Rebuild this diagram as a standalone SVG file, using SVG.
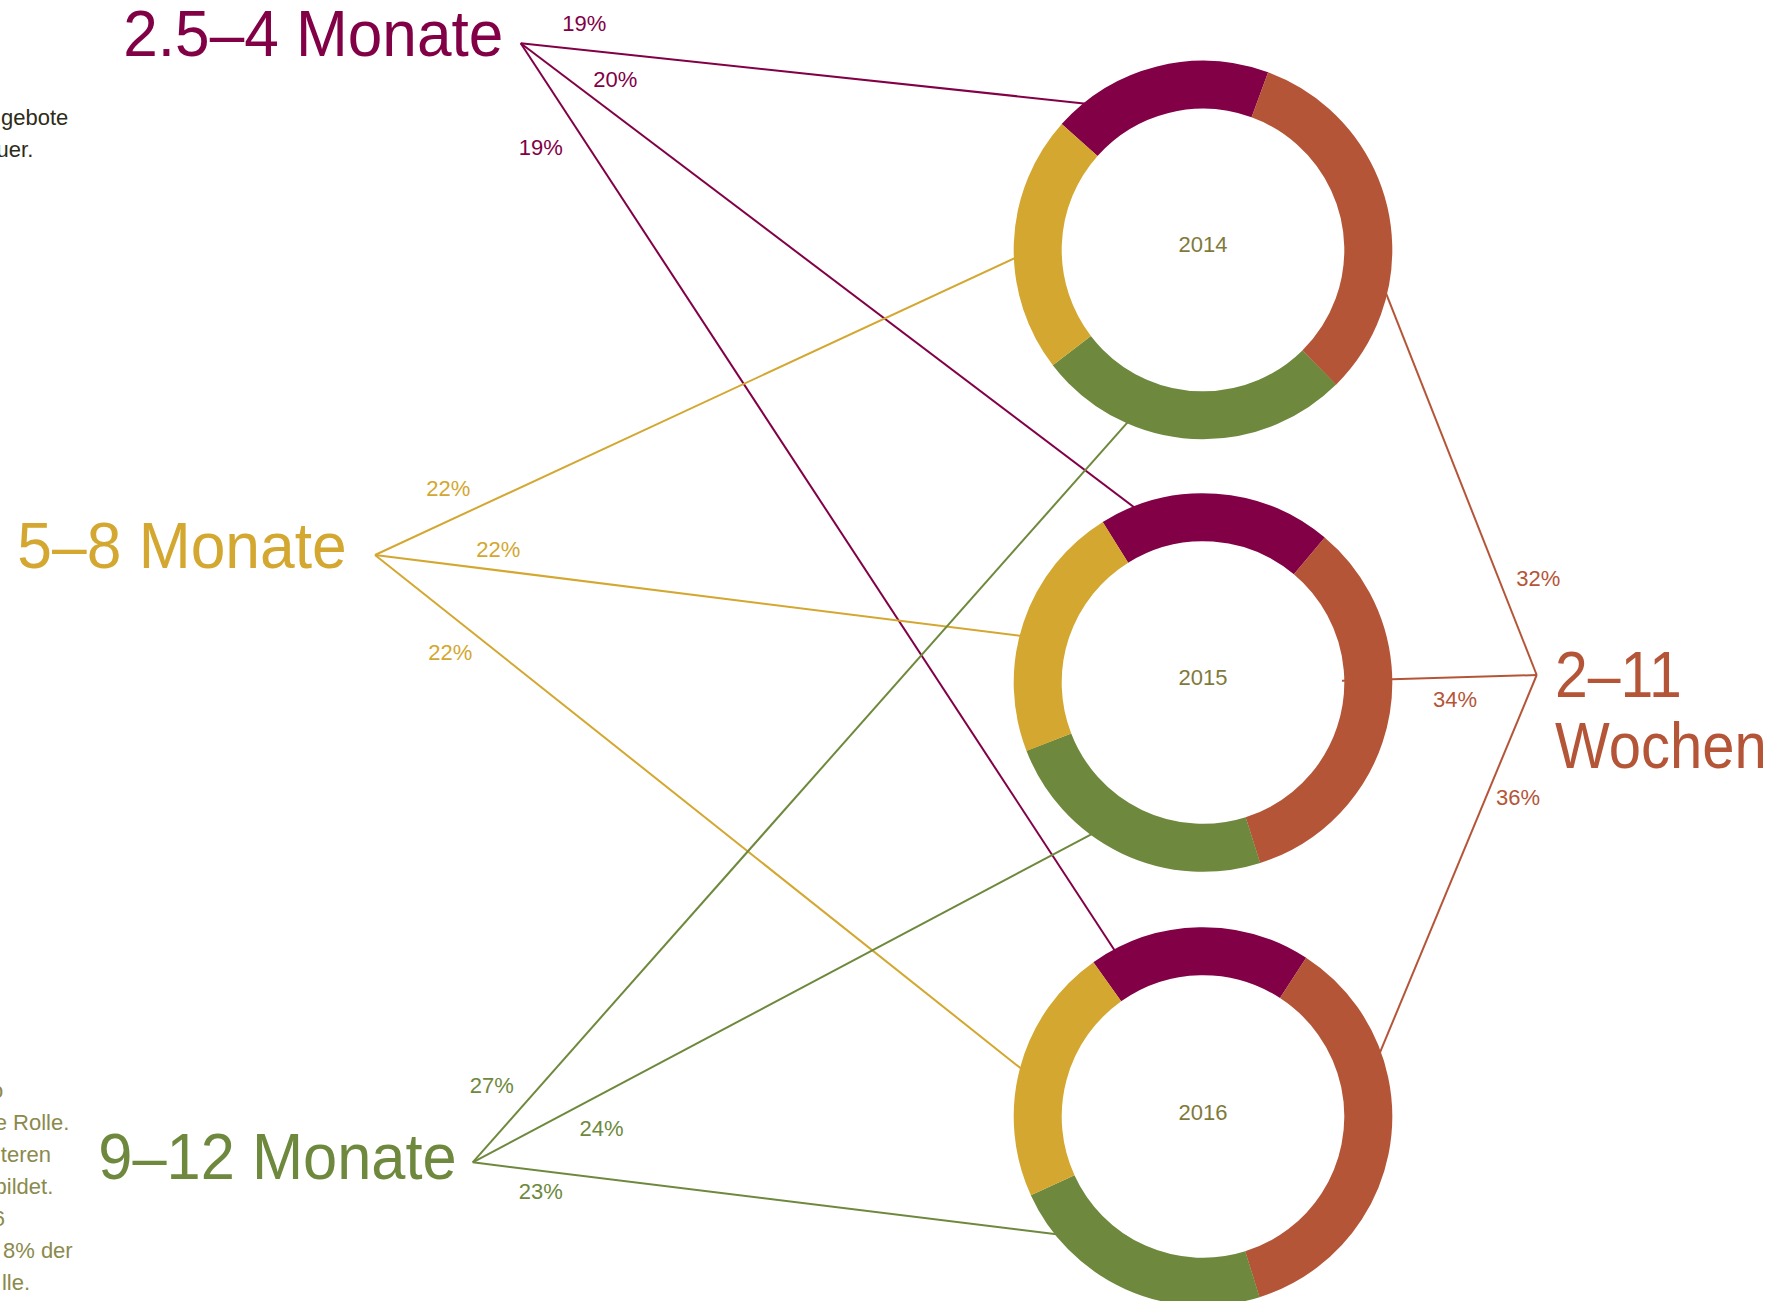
<svg xmlns="http://www.w3.org/2000/svg" width="1792" height="1301" viewBox="0 0 1792 1301">
<style>
text { font-family: "Liberation Sans", Arial, sans-serif; }
.big { font-size: 64px; }
.pct { font-size: 22px; text-anchor: middle; }
.yr { font-size: 22px; text-anchor: middle; fill: #7f7a3b; }
.side { font-size: 22px; text-anchor: end; }
.seg { fill: none; stroke-width: 48; }
.ln { fill: none; stroke-width: 2; }
.c-p { stroke: #820046; } .t-p { fill: #820046; }
.c-o { stroke: #b55538; } .t-o { fill: #b55538; }
.c-y { stroke: #d3a730; } .t-y { fill: #d3a730; }
.c-g { stroke: #6e893d; } .t-g { fill: #6e893d; }
</style>
<rect width="1792" height="1301" fill="#ffffff"/>

<g id="side-text">
  <text class="side" x="68.3" y="125" fill="#2d2c18">gebote</text>
  <text class="side" x="33.3" y="157" fill="#2d2c18">uer.</text>
  <g fill="#8b8a4c">
    <text class="side" x="3.3" y="1098">o</text>
    <text class="side" x="69.3" y="1130">e Rolle.</text>
    <text class="side" x="51" y="1162">teren</text>
    <text class="side" x="53.3" y="1194">bildet.</text>
    <text class="side" x="5" y="1226">6</text>
    <text class="side" x="72.7" y="1258">8% der</text>
    <text class="side" x="30" y="1290">lle.</text>
  </g>
</g>

<g id="connectors">
  <line class="ln c-p" x1="520.7" y1="43.3" x2="1093.2" y2="104.4"/>
  <line class="ln c-p" x1="520.7" y1="43.3" x2="1141.3" y2="512.7"/>
  <line class="ln c-p" x1="520.7" y1="43.3" x2="1118.8" y2="956.7"/>
  <line class="ln c-y" x1="375" y1="555" x2="1023.4" y2="254.1"/>
  <line class="ln c-y" x1="375" y1="555" x2="1029.9" y2="636.9"/>
  <line class="ln c-y" x1="375" y1="555" x2="1028.5" y2="1074.5"/>
  <line class="ln c-g" x1="472.7" y1="1162.3" x2="1133.3" y2="415.8"/>
  <line class="ln c-g" x1="472.7" y1="1162.3" x2="1098.8" y2="830.3"/>
  <line class="ln c-g" x1="472.7" y1="1162.3" x2="1066.6" y2="1235.5"/>
  <line class="ln c-o" x1="1536.7" y1="675" x2="1383" y2="285.7"/>
  <line class="ln c-o" x1="1536.7" y1="675" x2="1342" y2="680.8"/>
  <line class="ln c-o" x1="1536.7" y1="675" x2="1377.2" y2="1059.2"/>
  <g id="connector-labels">
    <text class="pct t-p" x="584.3" y="30.7">19%</text>
    <text class="pct t-p" x="615.3" y="87.3">20%</text>
    <text class="pct t-p" x="540.8" y="155">19%</text>
    <text class="pct t-y" x="448.3" y="496">22%</text>
    <text class="pct t-y" x="498.3" y="556.7">22%</text>
    <text class="pct t-y" x="450.3" y="660">22%</text>
    <text class="pct t-g" x="491.7" y="1093.3">27%</text>
    <text class="pct t-g" x="601.5" y="1136">24%</text>
    <text class="pct t-g" x="540.8" y="1199.3">23%</text>
    <text class="pct t-o" x="1538.3" y="585.7">32%</text>
    <text class="pct t-o" x="1455" y="707.3">34%</text>
    <text class="pct t-o" x="1518" y="805">36%</text>
  </g>
</g>

<g id="node-2-5-4-monate">
  <text class="big t-p" x="123.3" y="56" textLength="380" lengthAdjust="spacingAndGlyphs">2.5–4 Monate</text>
</g>
<g id="node-5-8-monate">
  <text class="big t-y" x="17.3" y="568.3" textLength="329.4" lengthAdjust="spacingAndGlyphs">5–8 Monate</text>
</g>
<g id="node-9-12-monate">
  <text class="big t-g" x="98.3" y="1179" textLength="358.4" lengthAdjust="spacingAndGlyphs">9–12 Monate</text>
</g>
<g id="node-2-11-wochen">
  <text class="big t-o" x="1555" y="696.7" textLength="126.7" lengthAdjust="spacingAndGlyphs">2–11</text>
  <text class="big t-o" x="1555" y="768.3" textLength="211.7" lengthAdjust="spacingAndGlyphs">Wochen</text>
</g>

<g id="node-2014">
  <circle class="seg c-p" cx="1203" cy="250" r="165.3" stroke-dasharray="197.34 1038.61" transform="rotate(221.7 1203 250)"/>
  <circle class="seg c-o" cx="1203" cy="250" r="165.3" stroke-dasharray="332.36 1038.61" transform="rotate(-69.9 1203 250)"/>
  <circle class="seg c-g" cx="1203" cy="250" r="165.3" stroke-dasharray="280.42 1038.61" transform="rotate(45.3 1203 250)"/>
  <circle class="seg c-y" cx="1203" cy="250" r="165.3" stroke-dasharray="228.49 1038.61" transform="rotate(142.5 1203 250)"/>
  <text class="yr" x="1203" y="252.3">2014</text>
</g>
<g id="node-2015">
  <circle class="seg c-p" cx="1203" cy="682.5" r="165.3" stroke-dasharray="207.72 1038.61" transform="rotate(238 1203 682.5)"/>
  <circle class="seg c-o" cx="1203" cy="682.5" r="165.3" stroke-dasharray="353.13 1038.61" transform="rotate(-50 1203 682.5)"/>
  <circle class="seg c-g" cx="1203" cy="682.5" r="165.3" stroke-dasharray="249.27 1038.61" transform="rotate(72.4 1203 682.5)"/>
  <circle class="seg c-y" cx="1203" cy="682.5" r="165.3" stroke-dasharray="228.49 1038.61" transform="rotate(158.8 1203 682.5)"/>
  <text class="yr" x="1203" y="685">2015</text>
</g>
<g id="node-2016">
  <circle class="seg c-p" cx="1203" cy="1116.5" r="165.3" stroke-dasharray="197.34 1038.61" transform="rotate(234.6 1203 1116.5)"/>
  <circle class="seg c-o" cx="1203" cy="1116.5" r="165.3" stroke-dasharray="373.9 1038.61" transform="rotate(-57 1203 1116.5)"/>
  <circle class="seg c-g" cx="1203" cy="1116.5" r="165.3" stroke-dasharray="238.88 1038.61" transform="rotate(72.6 1203 1116.5)"/>
  <circle class="seg c-y" cx="1203" cy="1116.5" r="165.3" stroke-dasharray="228.49 1038.61" transform="rotate(155.4 1203 1116.5)"/>
  <text class="yr" x="1203" y="1119.5">2016</text>
</g>
</svg>
